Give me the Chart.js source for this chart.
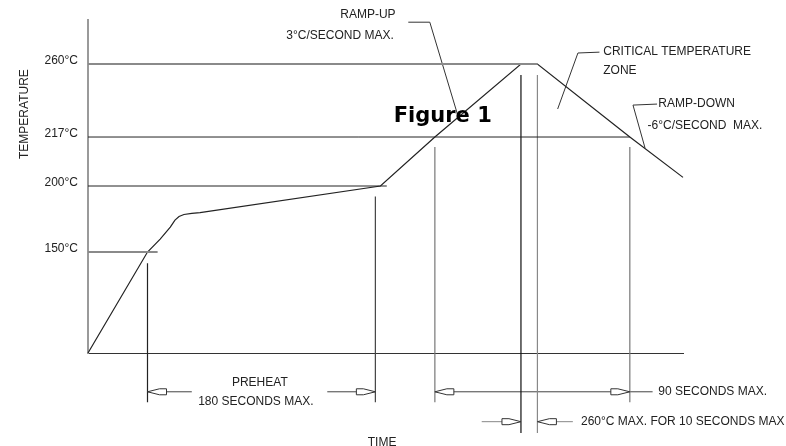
<!DOCTYPE html>
<html>
<head>
<meta charset="utf-8">
<script src="https://cdn.jsdelivr.net/npm/chart.js@4.4.1/dist/chart.umd.min.js"></script>
<style>
  html, body { margin: 0; padding: 0; background: #fff; }
  #wrap { width: 786px; height: 446px; }
</style>
</head>
<body>
<div id="wrap"><canvas id="profile"></canvas></div>
<script>
"use strict";

// Data

const tempTicks = [150, 200, 217, 260];                 // labelled temperature levels, °C
const levelEnd = [55, 236, 428, 355];                   // time (s) where each level line stops

const profileTime = [0, 47, 57, 65, 68.7, 71.9, 75.8, 82, 88.5, 231, 274, 342, 355, 428, 470];
const profileTemp = [25, 150, 159.8, 168.9, 174.2, 176.9, 178.4, 179.3, 179.9, 200, 217, 260, 260, 217, 203];

const markTime = [47, 227, 274, 342, 355, 428];         // extension lines
const markTop = [136, 192, 213.5, 253.5, 253.5, 213.5];

// The drawing is not to scale: temperature levels sit on fixed stops of the axis

const tempKnots = [25, 150, 200, 217, 260, 286];
const knotStops = [0, 0.3033, 0.5015, 0.6486, 0.8679, 1];

class KneeScale extends Chart.LinearScale {
  toDecimal(v) {
    let i = 1;
    while (i < tempKnots.length - 1 && v > tempKnots[i]) i++;
    let k0 = tempKnots[i - 1], k1 = tempKnots[i];
    let f0 = knotStops[i - 1], f1 = knotStops[i];
    return f0 + (v - k0) * (f1 - f0) / (k1 - k0);
  }
  getPixelForValue(v) {
    return this.getPixelForDecimal(this.toDecimal(v));
  }
  getValueForPixel(p) {
    let d = this.getDecimalForPixel(p);
    let i = 1;
    while (i < knotStops.length - 1 && d > knotStops[i]) i++;
    let k0 = tempKnots[i - 1], k1 = tempKnots[i];
    let f0 = knotStops[i - 1], f1 = knotStops[i];
    return k0 + (d - f0) * (k1 - k0) / (f1 - f0);
  }
}
KneeScale.id = "knee";
KneeScale.defaults = {};
Chart.register(KneeScale);

// Annotation rows below the time axis, in the same temperature units (extrapolated)

const rowDim = -23;
const rowPeak = -60;
const rowLow = -36;
const rowLower = -74;

function seg(points, color, width) {
  return {
    data: points.map(p => ({ x: p[0], y: p[1] })),
    borderColor: color,
    borderWidth: width,
    pointRadius: 0,
    fill: false,
    tension: 0,
    clip: false,
  };
}

let datasets = [];

// reference levels
let levelColor = ["#8a8a8a", "#222", "#222", "#8a8a8a"];
let levelWidth = [2, 1, 1, 2];
for (let i = 0; i < tempTicks.length; i++) {
  datasets.push(seg([[0, tempTicks[i]], [levelEnd[i], tempTicks[i]]], levelColor[i], levelWidth[i]));
}

// extension lines
let markColor = ["#222", "#444", "#777", "#111", "#888", "#777"];
let markBottom = [rowLow, rowLow, rowLow, rowLower, rowLower, rowLow];
for (let i = 0; i < markTime.length; i++) {
  datasets.push(seg([[markTime[i], markTop[i]], [markTime[i], markBottom[i]]], markColor[i], 1.2));
}

// the profile itself
datasets.push(seg(profileTime.map((t, i) => [t, profileTemp[i]]), "#222", 1.2));

// dimension lines
datasets.push(seg([[47, rowDim], [82, rowDim]], "#444", 1));
datasets.push(seg([[189, rowDim], [227, rowDim]], "#444", 1));
datasets.push(seg([[274, rowDim], [446, rowDim]], "#444", 1));
datasets.push(seg([[311, rowPeak], [342, rowPeak]], "#888", 1));
datasets.push(seg([[355, rowPeak], [383, rowPeak]], "#888", 1));

// leaders
datasets.push(seg([[253, 284.7], [270, 284.7], [292, 230]], "#333", 1));
datasets.push(seg([[371, 233.5], [387, 266.5], [404, 267]], "#333", 1));
datasets.push(seg([[440, 213.2], [430.5, 235.8], [449.5, 236.4]], "#333", 1));

// arrow heads: [time, temp, direction]
const arrows = [
  [47, rowDim, -1], [227, rowDim, 1],
  [274, rowDim, -1], [428, rowDim, 1],
  [342, rowPeak, 1], [355, rowPeak, -1],
];

// free text: [text, time, temp, align, font]
const plain = "12px 'Liberation Sans', Arial, sans-serif";
const notes = [
  ["RAMP-UP", 243, 289, "right", plain],
  ["3°C/SECOND MAX.", 241.5, 277, "right", plain],
  ["CRITICAL TEMPERATURE", 407, 267, "left", plain],
  ["ZONE", 407, 256, "left", plain],
  ["RAMP-DOWN", 450.5, 236.4, "left", plain],
  ["-6°C/SECOND  MAX.", 442, 223.5, "left", plain],
  ["PREHEAT", 113.7, -12, "left", plain],
  ["180 SECONDS MAX.", 87, -35.6, "left", plain],
  ["90 SECONDS MAX.", 450.5, rowDim, "left", plain],
  ["260°C MAX. FOR 10 SECONDS MAX", 389.4, rowPeak, "left", plain],
  ["TIME", 221, -86, "left", plain],
];

let drawNotes = {
  id: "drawNotes",
  afterDatasetsDraw(chart) {
    let ctx = chart.ctx;
    let xs = chart.scales.x;
    let ys = chart.scales.y;
    ctx.save();

    for (let i = 0; i < arrows.length; i++) {
      let a = arrows[i];
      let px = xs.getPixelForValue(a[0]);
      let py = ys.getPixelForValue(a[1]);
      let d = a[2];
      ctx.beginPath();
      ctx.moveTo(px, py);
      ctx.lineTo(px - d * 12, py - 3);
      ctx.lineTo(px - d * 19, py - 3);
      ctx.lineTo(px - d * 19, py + 3);
      ctx.lineTo(px - d * 12, py + 3);
      ctx.closePath();
      ctx.fillStyle = "#fff";
      ctx.fill();
      ctx.strokeStyle = "#333";
      ctx.lineWidth = 1;
      ctx.stroke();
    }

    ctx.fillStyle = "#222";
    ctx.textBaseline = "middle";
    for (let i = 0; i < notes.length; i++) {
      let n = notes[i];
      ctx.font = n[4];
      ctx.textAlign = n[3];
      ctx.fillText(n[0], xs.getPixelForValue(n[1]), ys.getPixelForValue(n[2]));
    }

    ctx.font = "bold 21px 'DejaVu Sans', sans-serif";
    ctx.textAlign = "left";
    ctx.textBaseline = "alphabetic";
    ctx.fillStyle = "#000";
    ctx.fillText("Figure 1", xs.getPixelForValue(241.5), ys.getPixelForValue(225.8));

    ctx.font = plain;
    ctx.fillStyle = "#222";
    ctx.textAlign = "center";
    ctx.textBaseline = "middle";
    ctx.translate(xs.getPixelForValue(-50), ys.getPixelForValue(230.5));
    ctx.rotate(-Math.PI / 2);
    ctx.fillText("TEMPERATURE", 0, 0);
    ctx.restore();
  },
};

let ctx = document.getElementById("profile").getContext("2d");

let profileChart = new Chart(ctx, {
  type: "line",
  data: { datasets: datasets },
  options: {
    responsive: true,
    maintainAspectRatio: false,
    animation: false,
    events: [],
    layout: { padding: { left: 11, top: 20, right: 103, bottom: 93 } },
    plugins: {
      legend: { display: false },
      tooltip: { enabled: false },
    },
    scales: {
      x: {
        type: "linear",
        min: 0,
        max: 470,
        grid: { display: false, drawTicks: false },
        ticks: { display: false },
        border: { color: "#333", width: 1 },
        afterFit(scale) { scale.height = 0; },
      },
      y: {
        type: "knee",
        min: 25,
        max: 286,
        grid: { display: false, drawTicks: false },
        border: { color: "#9a9a9a", width: 2 },
        afterBuildTicks(scale) {
          scale.ticks = tempTicks.map(v => ({ value: v }));
        },
        ticks: {
          color: "#222",
          padding: 10,
          labelOffset: -3,
          font: { family: "'Liberation Sans', Arial, sans-serif", size: 12 },
          callback: v => v + "°C",
        },
        afterFit(scale) { scale.width = 77; },
      },
    },
  },
  plugins: [drawNotes],
});
</script>
</body>
</html>
